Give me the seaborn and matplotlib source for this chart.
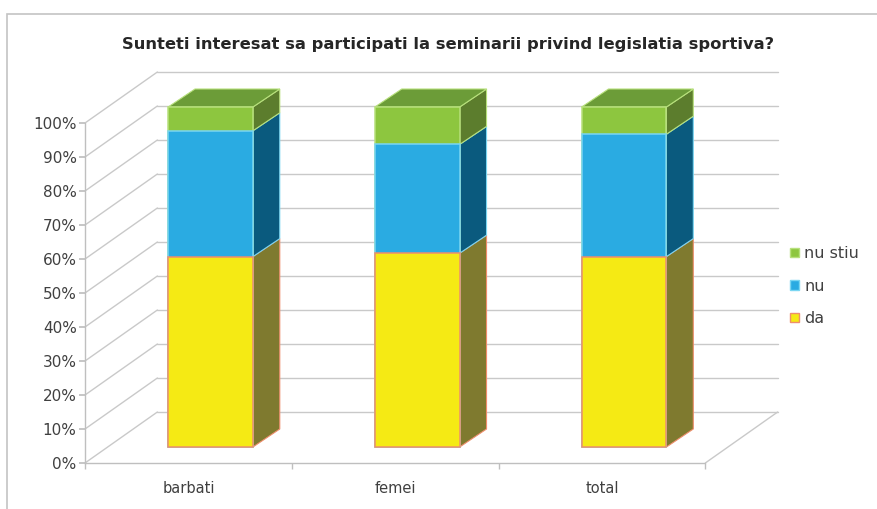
import matplotlib
matplotlib.use("Agg")
import matplotlib.pyplot as plt
from matplotlib.patches import Patch, Polygon, Rectangle
from matplotlib.transforms import Affine2D
import pandas as pd
import seaborn as sns

# --- data -------------------------------------------------------------
categorii = ["barbati", "femei", "total"]
da = [56, 57, 56]
nu = [37, 32, 36]
nu_stiu = [7, 11, 8]
serii = ["nu stiu", "nu", "da"]
niveluri_y = [0, 10, 20, 30, 40, 50, 60, 70, 80, 90, 100]
etichete_y = ["0%", "10%", "20%", "30%", "40%", "50%", "60%", "70%", "80%", "90%", "100%"]
titlu = "Sunteti interesat sa participati la seminarii privind legislatia sportiva?"

# --- styling ------------------------------------------------------------
culori = {
    "da":      dict(front="#F5EA14", edge="#EE8E6C", side="#7F7A2F"),
    "nu":      dict(front="#2AABE2", edge="#7AD6F2", side="#0A5A7E"),
    "nu stiu": dict(front="#8DC63F", edge="#B7E07C", side="#5C7D2D", top="#6C9C38"),
}
GRID = "#C9C9C9"
TEXT = "#404040"

sns.set_theme(style="white")
plt.rcParams["font.family"] = ["DejaVu Sans"]

W, H = 877, 509
fig = plt.figure(figsize=(W / 100, H / 100), dpi=100)
ax = fig.add_axes([85 / W, 46 / H, 703 / W, 401.2 / H])
ax.set_facecolor("none")

# pseudo-3D projection: depth offsets in data units
WALL_DX, WALL_DY = 0.35, 15.0      # full floor depth
BAR_DX, BAR_DY = 0.107, 4.7        # front face of the bars
SIDE_DX, SIDE_DY = 0.13, 5.3       # depth of each bar
BAR_W = 0.41

# walls and floor
for v in niveluri_y:
    ax.plot([-0.5, -0.5 + WALL_DX], [v, v + WALL_DY], color=GRID, lw=1, zorder=0)
    ax.plot([-0.5 + WALL_DX, 2.5 + WALL_DX], [v + WALL_DY] * 2, color=GRID, lw=1, zorder=0)
ax.plot([2.5, 2.5 + WALL_DX], [0, WALL_DY], color=GRID, lw=1, zorder=0)

# stacked front faces: cumulative heights drawn back to front
df = pd.DataFrame({"categorie": categorii, "da": da, "nu": nu, "nu stiu": nu_stiu})
df["cum_da"] = df["da"]
df["cum_nu"] = df["da"] + df["nu"]
df["cum_nu stiu"] = df["da"] + df["nu"] + df["nu stiu"]

for s in serii:
    sns.barplot(data=df, x="categorie", y="cum_" + s, order=categorii,
                color=culori[s]["front"], saturation=1, width=BAR_W,
                edgecolor=culori[s]["edge"], linewidth=1.1, ax=ax, zorder=3)
bars = list(ax.patches)
shift = Affine2D().translate(BAR_DX, BAR_DY) + ax.transData
for p in bars:
    p.set_transform(shift)

# side and top faces
for i, cat in enumerate(categorii):
    xl = i - BAR_W / 2 + BAR_DX
    xr = i + BAR_W / 2 + BAR_DX
    segs = [("da", 0, da[i]),
            ("nu", da[i], da[i] + nu[i]),
            ("nu stiu", da[i] + nu[i], da[i] + nu[i] + nu_stiu[i])]
    for s, y0, y1 in segs:
        a, b = y0 + BAR_DY, y1 + BAR_DY
        ax.add_patch(Polygon([(xr, a), (xr + SIDE_DX, a + SIDE_DY),
                              (xr + SIDE_DX, b + SIDE_DY), (xr, b)],
                             closed=True, facecolor=culori[s]["side"],
                             edgecolor=culori[s]["edge"], lw=0.8, zorder=2))
    top = segs[-1][2] + BAR_DY
    ax.add_patch(Polygon([(xl, top), (xl + SIDE_DX, top + SIDE_DY),
                          (xr + SIDE_DX, top + SIDE_DY), (xr, top)],
                         closed=True, facecolor=culori["nu stiu"]["top"],
                         edgecolor=culori["nu stiu"]["edge"], lw=0.8, zorder=2))

# axes
ax.set_xlim(-0.5, 2.9)
ax.set_ylim(0, 118)
ax.set_xlabel("")
ax.set_ylabel("")
ax.grid(False)
for side in ["top", "right"]:
    ax.spines[side].set_visible(False)
ax.spines["left"].set_bounds(0, 100)
ax.spines["bottom"].set_bounds(-0.5, 2.5)
for side in ["left", "bottom"]:
    ax.spines[side].set_color("#BFBFBF")
    ax.spines[side].set_linewidth(1)
ax.set_yticks(niveluri_y)
ax.set_yticklabels(etichete_y)
ax.set_xticks(range(len(categorii)))
ax.set_xticklabels(categorii)
ax.set_xticks([-0.5, 0.5, 1.5, 2.5], minor=True)
ax.tick_params(axis="y", which="major", length=4, color="#BFBFBF", pad=2,
               labelsize=11, labelcolor=TEXT, left=True)
ax.tick_params(axis="x", which="major", length=0, pad=13, labelsize=10.5, labelcolor=TEXT)
ax.tick_params(axis="x", which="minor", length=4, color="#BFBFBF", bottom=True)

# title
fig.text(448 / W, 1 - 45 / H, titlu, ha="center", va="center",
         fontsize=11.8, fontweight="bold", color="#262626")

# legend
handles = [Patch(facecolor=culori[s]["front"], edgecolor=culori[s]["edge"], label=s)
           for s in serii]
fig.legend(handles=handles, loc="upper left", bbox_to_anchor=(790 / W, 1 - 246 / H),
           frameon=False, fontsize=11.5, labelcolor=TEXT, handlelength=0.55,
           handleheight=0.55, handletextpad=0.35, labelspacing=1.1,
           borderaxespad=0, borderpad=0)

# chart area border
fig.patches.append(Rectangle((7 / W, -0.1), 1.2, (H - 14) / H + 0.1,
                             transform=fig.transFigure, fill=False,
                             edgecolor="#C4C4C4", lw=1.2))

fig.savefig("out.png", dpi=100)
